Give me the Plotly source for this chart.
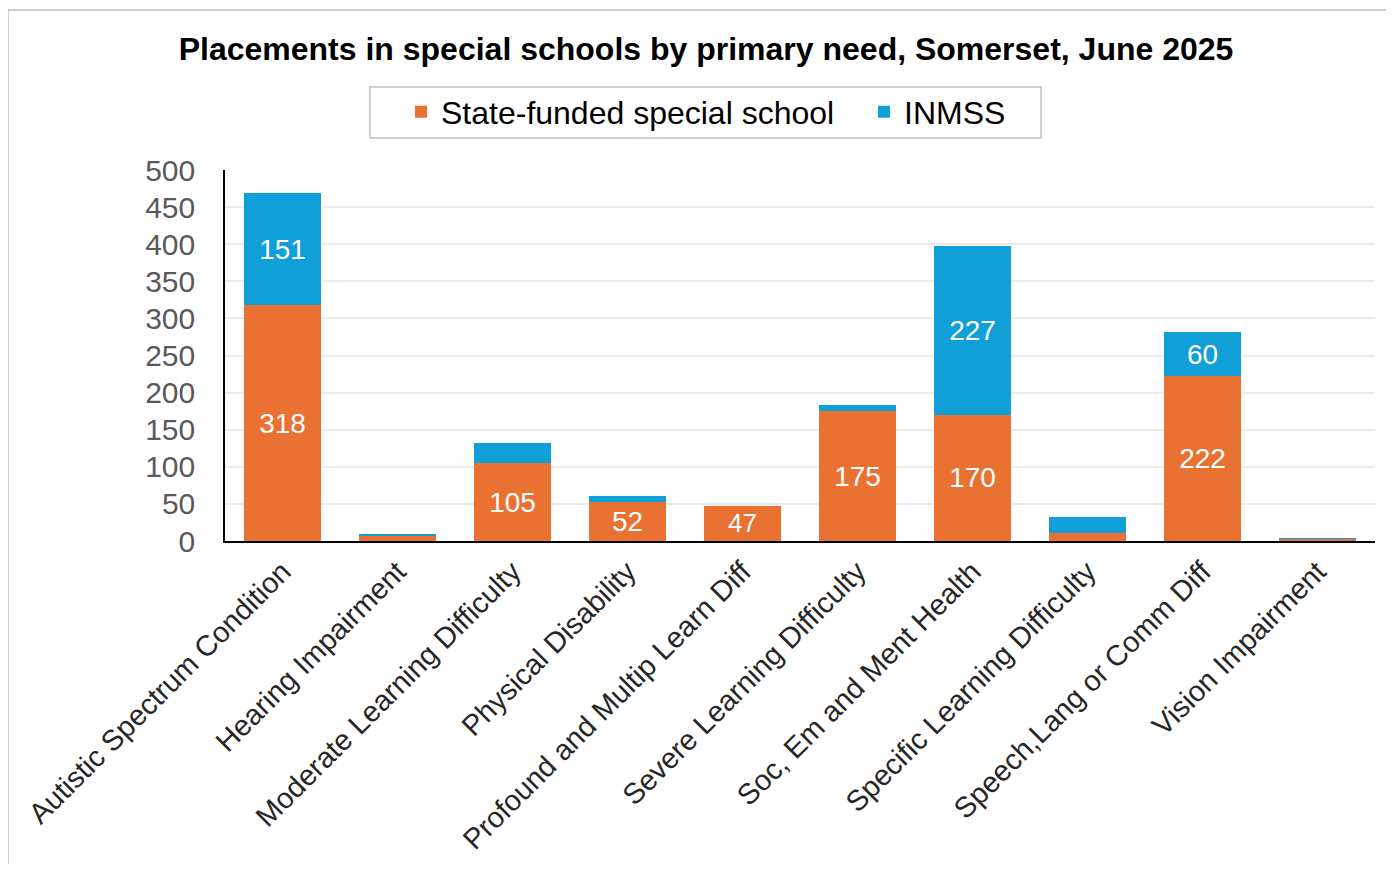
import plotly.graph_objects as go

categories = ["Autistic Spectrum Condition", "Hearing Impairment", "Moderate Learning Difficulty",
              "Physical Disability", "Profound and Multip Learn Diff", "Severe Learning Difficulty",
              "Soc, Em and Ment Health", "Specific Learning Difficulty", "Speech,Lang or Comm Diff",
              "Vision Impairment"]
state_funded = [318, 8, 105, 52, 47, 175, 170, 11, 222, 3]
inmss = [151, 2, 27, 8, 0, 8, 227, 21, 60, 1]
label_min = 40

OFF = 8  # page body margin
W, H = 1378, 856
L, R, T, B = 217, 11, 162, 323
pw, ph = W - L - R, H - T - B


def px_x(x):  # reference pixel -> paper coordinate
    return (x - OFF - L) / pw


def px_y(y):
    return (H - B - (y - OFF)) / ph


FONT = "Liberation Sans, Arial, sans-serif"

fig = go.Figure()
fig.add_trace(go.Bar(
    x=categories, y=state_funded, name="State-funded special school",
    marker=dict(color="#E97132", line=dict(width=0)),
    text=[str(v) if v >= label_min else "" for v in state_funded],
    textposition="inside", insidetextanchor="middle",
    textfont=dict(color="white", size=28, family=FONT),
))
fig.add_trace(go.Bar(
    x=categories, y=inmss, name="INMSS",
    marker=dict(color="#119FD7", line=dict(width=0)),
    text=[str(v) if v >= label_min else "" for v in inmss],
    textposition="inside", insidetextanchor="middle",
    textfont=dict(color="white", size=28, family=FONT),
))

fig.update_layout(
    width=W, height=H, barmode="stack", bargap=0.33,
    margin=dict(l=L, r=R, t=T, b=B, autoexpand=False),
    paper_bgcolor="white", plot_bgcolor="white",
    font=dict(family=FONT, color="#262626"),
    title=dict(text="<b>Placements in special schools by primary need, Somerset, June 2025</b>",
               x=(706 - OFF) / W, xanchor="center", xref="container",
               y=1 - (49 - OFF) / H, yanchor="middle", yref="container",
               font=dict(size=32, color="black", family=FONT)),
    legend=dict(orientation="h", xref="container", x=(401 - OFF) / W, xanchor="left",
                yref="container", y=1 - (112 - OFF) / H, yanchor="middle",
                borderwidth=0, bgcolor="rgba(0,0,0,0)",
                font=dict(size=32, color="black", family=FONT),
                itemwidth=30, traceorder="normal",
                entrywidth=418, entrywidthmode="pixels"),
    showlegend=True,
)
fig.update_xaxes(tickangle=-45, tickfont=dict(size=29, color="#262626"),
                 showline=True, linecolor="black", linewidth=2, ticks="")
fig.update_yaxes(range=[0, 500], dtick=50, tickfont=dict(size=30, color="#595959"),
                 showgrid=True, gridcolor="#EBEBEB", gridwidth=1.5,
                 showline=True, linecolor="black", linewidth=1.5, zeroline=False,
                 ticks="", ticklabelstandoff=22)

# outer chart border
fig.add_shape(type="rect", xref="paper", yref="paper",
              x0=px_x(8), x1=px_x(1420), y0=px_y(900), y1=px_y(10),
              line=dict(color="#BFBFBF", width=1.5), layer="below")
# legend box
fig.add_shape(type="rect", xref="paper", yref="paper",
              x0=px_x(370), x1=px_x(1041), y0=px_y(138), y1=px_y(87),
              line=dict(color="#BFBFBF", width=1.5), layer="below")

fig.write_html("out.html")
